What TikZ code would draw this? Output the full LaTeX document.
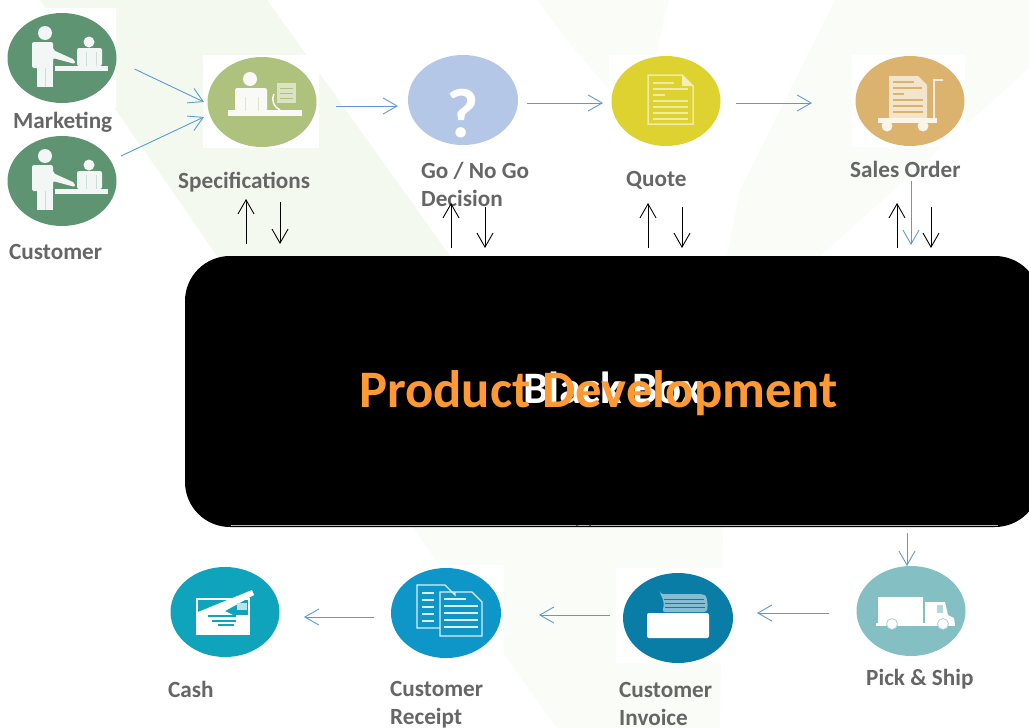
\documentclass[tikz,border=0pt]{standalone}
\usepackage{fontspec}
\setmainfont{Carlito}
\usetikzlibrary{arrows.meta,shapes.geometric}
\definecolor{paleA}{HTML}{F4F9F0}
\definecolor{paleB}{HTML}{FAFCF7}
\definecolor{flowblue}{HTML}{5B9BD5}
\definecolor{labelgrey}{HTML}{666666}
\definecolor{cMkt}{HTML}{5F9472}
\definecolor{cSpec}{HTML}{AEC27E}
\definecolor{cGo}{HTML}{B4C7E7}
\definecolor{cQuote}{HTML}{DDD230}
\definecolor{cSales}{HTML}{DBB26E}
\definecolor{cCash}{HTML}{0FA3BC}
\definecolor{cReceipt}{HTML}{0E96C8}
\definecolor{cInvoice}{HTML}{0A7DA6}
\definecolor{cPick}{HTML}{83BFC3}
\definecolor{orangeT}{HTML}{FF9933}
\tikzset{
  disc/.style={ellipse,minimum width=#1,minimum height=90pt,inner sep=0pt,outer sep=0pt},
  disc/.default=109pt,
  lbl/.style={anchor=base west,inner sep=0pt,font=\bfseries\fontsize{23.2}{23.2}\selectfont,text=labelgrey},
  flow/.style={draw=flowblue,line width=0.9pt,-{Straight Barb[length=14pt,width=16pt,line width=0.9pt]}},
  updown/.style={draw=black,line width=0.9pt,-{Straight Barb[length=14pt,width=16pt,line width=0.9pt]}},
  wh/.style={fill=white,draw=none},
}
\newcommand{\icoPeople}[1]{%
  \begin{scope}[shift={(#1)}]
    \fill[white!92!cMkt] (-17,-25) circle[radius=7];
    \fill[white!92!cMkt,rounded corners=2pt] (-30,10) -- (-30,-16) -- (-9,-16) -- (-9,-8) -- (13,2) -- (13,6) -- (-9,0) -- (-9,10) -- cycle;
    \fill[white!92!cMkt] (-25,9) rectangle (-9,29);
    \fill[white!92!cMkt] (-7,8) rectangle (46,13);
    \fill[white!92!cMkt] (27,-16) circle[radius=5.5];
    \fill[white!92!cMkt,rounded corners=2pt] (15,8) -- (15,-10) -- (40,-10) -- (40,8) -- cycle;
    \draw[cMkt!30,line width=0.6pt] (-17,10) -- (-17,29) (24,-6) -- (24,8) (34,-6) -- (34,8);
  \end{scope}}
\begin{document}
\begin{tikzpicture}[x=1pt,y=-1pt]
\clip (0,0) rectangle (1029,728);
\fill[white] (0,0) rectangle (1029,728);
% watermark
\fill[paleA] (40,0) -- (267,0) -- (450,256) -- (600,256) -- (600,528) -- (413,528) -- (217,256) -- cycle;
\fill[paleB] (600,256) -- (720,256) -- (723,528) -- (720,728) -- (557,728) -- (413,528) -- (600,400) -- cycle;
\fill[paleB] (835,0) -- (1029,0) -- (1029,68) -- (820,256) -- (727,256) -- (740,190) -- cycle;
\fill[paleB] (537,0) -- (668,0) -- (655,60) -- (646,124) -- (610,90) -- (575,50) -- cycle;
% white backings of the icons
\fill[white] (5,8) rectangle (116,108);
\fill[white] (203,55) rectangle (319,148);
\fill[white] (609,55) rectangle (721,146);
\fill[white] (852,55) rectangle (965,147);
\fill[white] (616,568) rectangle (736,663);
\fill[white] (382,565) rectangle (504,663);
% icon discs
\node[disc,fill=cMkt] (mkt) at (62,58) {};
\node[disc,fill=cMkt] (cust) at (62,181) {};
\node[disc,fill=cSpec] (spec) at (262,102) {};
\node[disc=110pt,fill=cGo] (go) at (463,100) {};
\node[disc,fill=cQuote] (quote) at (666,101) {};
\node[disc,fill=cSales] (sales) at (910,101) {};
\node[disc,fill=cCash] (cash) at (225,612) {};
\node[disc=110pt,fill=cReceipt] (receipt) at (446,613) {};
\node[disc=110pt,fill=cInvoice] (invoice) at (678,618) {};
\node[disc,fill=cPick] (pick) at (911,611) {};
% pictographs
\icoPeople{mkt.center}
\icoPeople{cust.center}
\begin{scope}[shift={(spec.center)}]
  \fill[white!92!cSpec] (-12,-23) circle[radius=7];
  \fill[white!92!cSpec,rounded corners=2pt] (-27,9) -- (-27,-14) -- (5,-14) -- (5,9) -- cycle;
  \fill[white!92!cSpec] (-34,8) rectangle (40,14);
  \draw[white,line width=1.5pt] (12,-8) .. controls (9,-1) and (12,5) .. (18,8);
  \fill[white!55!cSpec] (15,-19) rectangle (34,1);
  \draw[cSpec,line width=0.7pt] (18,-14) -- (31,-14) (18,-9) -- (31,-9) (18,-4) -- (31,-4);
  \draw[cSpec!40,line width=0.7pt] (-17,-5) -- (-17,9) (-4,-5) -- (-4,9);
\end{scope}
\node[inner sep=0pt,text=white,font=\bfseries\fontsize{70}{70}\selectfont] (qmark) at (463,114) {?};
\begin{scope}[shift={(quote.center)}]
  \draw[white!55!cQuote,line width=1.5pt] (-18,-26) -- (16,-26) -- (27,-15) -- (27,23) -- (-18,23) -- cycle;
  \fill[white!65!cQuote] (16,-26) -- (27,-15) -- (16,-15) -- cycle;
  \draw[white!55!cQuote,line width=1.5pt] (-13,-18) -- (8,-18) (-13,-12) -- (22,-12) (-13,-6) -- (-1,-6) (-13,0) -- (22,0) (-13,6) -- (22,6) (-13,12) -- (22,12) (-13,18) -- (22,18);
\end{scope}
\begin{scope}[shift={(sales.center)}]
  \fill[white!65!cSales] (-21,-25) -- (8,-25) -- (17,-16) -- (17,17) -- (-21,17) -- cycle;
  \draw[cSales,line width=1.1pt] (-17,-19) -- (4,-19) (-17,-13) -- (12,-13) (-17,-7) -- (-6,-7) (-17,-1) -- (13,-1) (-17,5) -- (13,5) (-17,11) -- (13,11);
  \draw[white!75!cSales,line width=2.6pt] (33,-21) -- (24,-21) -- (24,18);
  \fill[white!85!cSales] (-32,17) rectangle (27,22);
  \fill[white!85!cSales] (-23,25) circle[radius=5.5] (13,25) circle[radius=5.5];
\end{scope}
\begin{scope}[shift={(cash.center)}]
  \fill[white] (-29,-14) rectangle (25,23);
  \fill[cCash] (-27,-12) rectangle (23,3);
  \fill[white] (-27,0) -- (27,-22) -- (29,-17) -- (0,-1) -- (8,3) -- (-27,3) -- cycle;
  \fill[white!70!cCash] (12,-9) rectangle (22,-2);
  \draw[cCash,line width=1.2pt] (-17,4) -- (11,4) (-13,9) -- (11,9) (-7,13) -- (9,13);
\end{scope}
\begin{scope}[shift={(receipt.center)}]
  \draw[white!85!cReceipt,line width=1.2pt] (-6,15) -- (-29,15) -- (-29,-28) -- (-1,-28) -- (9,-18) -- (9,-21);
  \draw[white!85!cReceipt,line width=1.8pt] (-24,-20) -- (-12,-20) (-24,-13) -- (-12,-13) (-24,-6) -- (-12,-6) (-24,1) -- (-12,1) (-24,8) -- (-12,8);
  \draw[white!85!cReceipt,line width=1.2pt] (-6,-21) -- (26,-21) -- (36,-11) -- (36,23) -- (-6,23) -- cycle;
  \draw[white!85!cReceipt,line width=1.8pt] (-2,-14) -- (20,-14) (-2,-7) -- (32,-7) (-2,0) -- (32,0) (-2,7) -- (32,7) (-2,14) -- (32,14);
\end{scope}
\begin{scope}[shift={(invoice.center)}]
  \fill[white,rounded corners=2pt] (-31,-5) rectangle (31,20);
  \fill[white!50!cInvoice,rounded corners=3pt] (-18,-24) -- (24,-24) .. controls (29,-22) and (30,-14) .. (29,-6) -- (-16,-6) .. controls (-14,-12) and (-14,-18) .. cycle;
  \draw[cInvoice,line width=0.9pt] (-14,-19) -- (26,-19) (-13,-15) -- (27,-15) (-13,-11) -- (27,-11);
\end{scope}
\begin{scope}[shift={(pick.center)}]
  \fill[white] (-33,-14) rectangle (12,14);
  \fill[white] (14,-9) -- (34,-9) -- (37,4) -- (43,7) -- (44,14) -- (14,14) -- cycle;
  \fill[white] (-35,12) rectangle (44,15);
  \fill[cPick!60] (26,-6) rectangle (32,2);
  \fill[white,draw=cPick!70,line width=0.8pt] (-19,13) circle[radius=5.5] (32,13) circle[radius=5.5];
\end{scope}
% central box
\node[fill=black,rounded corners=45pt,minimum width=855pt,minimum height=271pt,inner sep=0pt,outer sep=0pt] (box) at (612.5,391.5) {};
\draw[black!30,line width=0.7pt] ([shift={(-382,-1.5)}]box.south) -- ([shift={(385,-1.5)}]box.south);
\fill[black!70] ([shift={(-35.5,-1.5)}]box.south) circle[radius=1] ([shift={(-22.5,-1.5)}]box.south) circle[radius=1];
\node[inner sep=0pt,anchor=base,text=white,font=\bfseries\fontsize{45}{45}\selectfont] (bb) at (612.5,403) {Black Box};
\node[inner sep=0pt,anchor=base,text=orangeT,font=\bfseries\fontsize{52.7}{52.7}\selectfont] (pd) at (598.5,407) {Product Development};
% labels
\node[lbl] (lMkt) at (13,128) {Marketing};
\node[lbl] (lCust) at (9,259) {Customer};
\node[lbl] (lSpec) at (178,188) {Specifications};
\node[lbl] (lGo) at (421,178) {Go / No Go};
\node[lbl] (lGo2) at (421,206) {Decision};
\node[lbl] (lQuote) at (626,186) {Quote};
\node[lbl] (lSales) at (850,177) {Sales Order};
\node[lbl] (lCash) at (168,697) {Cash};
\node[lbl] (lRec) at (390,696) {Customer};
\node[lbl] (lRec2) at (390,724) {Receipt};
\node[lbl] (lInv) at (619,697) {Customer};
\node[lbl] (lInv2) at (619,725) {Invoice};
\node[lbl] (lPick) at (866,685) {Pick \& Ship};
% blue flow
\draw[flow] ([shift={(72.5,11)}]mkt.center) -- ([shift={(-58,0)}]spec.center);
\draw[flow] ([shift={(59,-25)}]cust.center) -- ([shift={(-58,15)}]spec.center);
\draw[flow] ([shift={(19.5,4)}]spec.east) -- ([shift={(-10,6)}]go.west);
\draw[flow] ([shift={(9,3)}]go.east) -- ([shift={(-8.5,2)}]quote.west);
\draw[flow] ([shift={(15.5,2)}]quote.east) -- ([shift={(-43.5,2)}]sales.west);
\draw[flow] ([shift={(1,35)}]sales.south) -- ([shift={(298.5,-11)}]box.north);
\draw[flow] ([shift={(294.5,6)}]box.south) -- ([shift={(-4,0)}]pick.north);
\draw[flow] ([shift={(-28,2)}]pick.west) -- ([shift={(24,-5)}]invoice.east);
\draw[flow] ([shift={(-13,-3)}]invoice.west) -- ([shift={(38,2)}]receipt.east);
\draw[flow] ([shift={(-17,4)}]receipt.west) -- ([shift={(24.5,5)}]cash.east);
% black pairs
\draw[updown] ([shift={(-366.5,-12)}]box.north) -- ([shift={(-16,52)}]spec.south);
\draw[updown] ([shift={(18,55)}]spec.south) -- ([shift={(-332.5,-12)}]box.north);
\draw[updown] ([shift={(-161.5,-8)}]box.north) -- ([shift={(-12,58)}]go.south);
\draw[updown] ([shift={(22,62)}]go.south) -- ([shift={(-127.5,-8)}]box.north);
\draw[updown] ([shift={(35.5,-8)}]box.north) -- ([shift={(-18,57)}]quote.south);
\draw[updown] ([shift={(16,61)}]quote.south) -- ([shift={(69.5,-8)}]box.north);
\draw[updown] ([shift={(284.5,-8)}]box.north) -- ([shift={(-13,57)}]sales.south);
\draw[updown] ([shift={(21,61)}]sales.south) -- ([shift={(318.5,-8)}]box.north);
\end{tikzpicture}
\end{document}
